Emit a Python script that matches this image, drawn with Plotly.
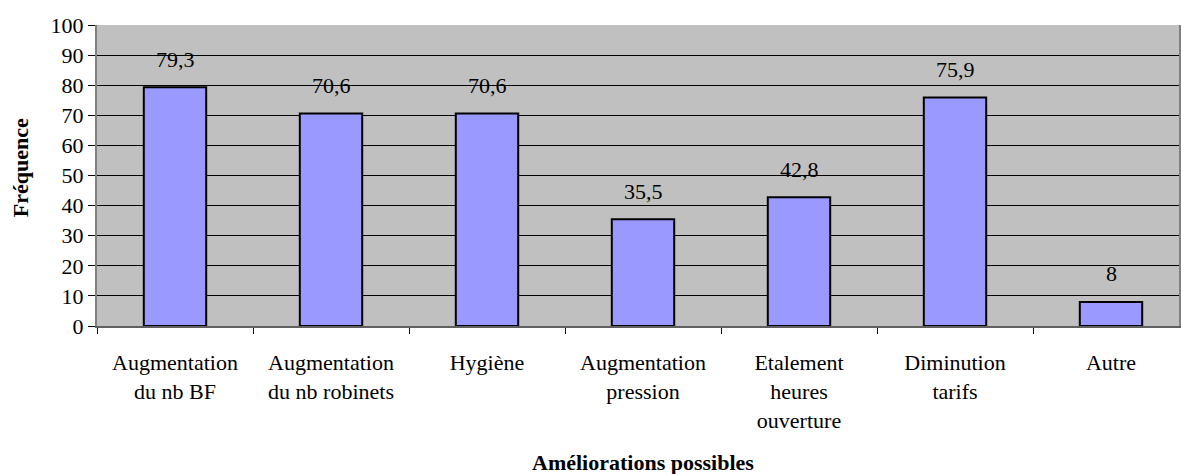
import plotly.graph_objects as go

categories = ["Augmentation<br>du nb BF", "Augmentation<br>du nb robinets", "Hygiène",
              "Augmentation<br>pression", "Etalement<br>heures<br>ouverture",
              "Diminution<br>tarifs", "Autre"]
values = [79.3, 70.6, 70.6, 35.5, 42.8, 75.9, 8]
value_labels = ["79,3", "70,6", "70,6", "35,5", "42,8", "75,9", "8"]
y_ticks = [0, 10, 20, 30, 40, 50, 60, 70, 80, 90, 100]

FONT = "Liberation Serif, Times New Roman, DejaVu Serif, serif"

fig = go.Figure()
fig.add_trace(go.Bar(
    x=categories, y=values, width=0.4,
    marker=dict(color="#9999FF", line=dict(color="black", width=2)),
    hoverinfo="skip",
))

for c, v, t in zip(categories, values, value_labels):
    fig.add_annotation(x=c, y=v, text=t, showarrow=False, yanchor="middle",
                       yshift=28, font=dict(family=FONT, size=22, color="black"))

fig.add_annotation(x=-0.070, xref="paper", y=0.525, yref="paper", text="<b>Fréquence</b>",
                   textangle=-90, showarrow=False, xanchor="center", yanchor="middle",
                   font=dict(family=FONT, size=22, color="black"))
fig.add_annotation(x=0.505, xref="paper", y=-0.452, yref="paper", text="<b>Améliorations possibles</b>",
                   showarrow=False, xanchor="center", yanchor="middle",
                   font=dict(family=FONT, size=22, color="black"))

fig.update_layout(
    width=1181, height=474,
    margin=dict(l=97, r=0, t=25, b=148),
    paper_bgcolor="white", plot_bgcolor="#C0C0C0",
    showlegend=False,
    font=dict(family=FONT, size=22, color="black"),
    xaxis=dict(
        type="category",
        range=[-0.5, 6.5 - 10 / 156],
        tickson="boundaries", ticks="outside", ticklen=6, tickcolor="black",
        showline=True, linecolor="#606060", linewidth=2, mirror=False,
        showgrid=False,
        ticklabelstandoff=16,
        tickfont=dict(family=FONT, size=22),
    ),
    yaxis=dict(
        range=[0, 100], tickvals=y_ticks,
        ticks="outside", ticklen=7, tickcolor="black",
        showline=True, linecolor="#808080", linewidth=2, mirror=True,
        showgrid=True, gridcolor="black", gridwidth=1,
        zeroline=False,
        tickfont=dict(family=FONT, size=22),
    ),
)

fig.write_html("out.html", config={"displayModeBar": False},
               post_script="document.body.style.margin='0';")
